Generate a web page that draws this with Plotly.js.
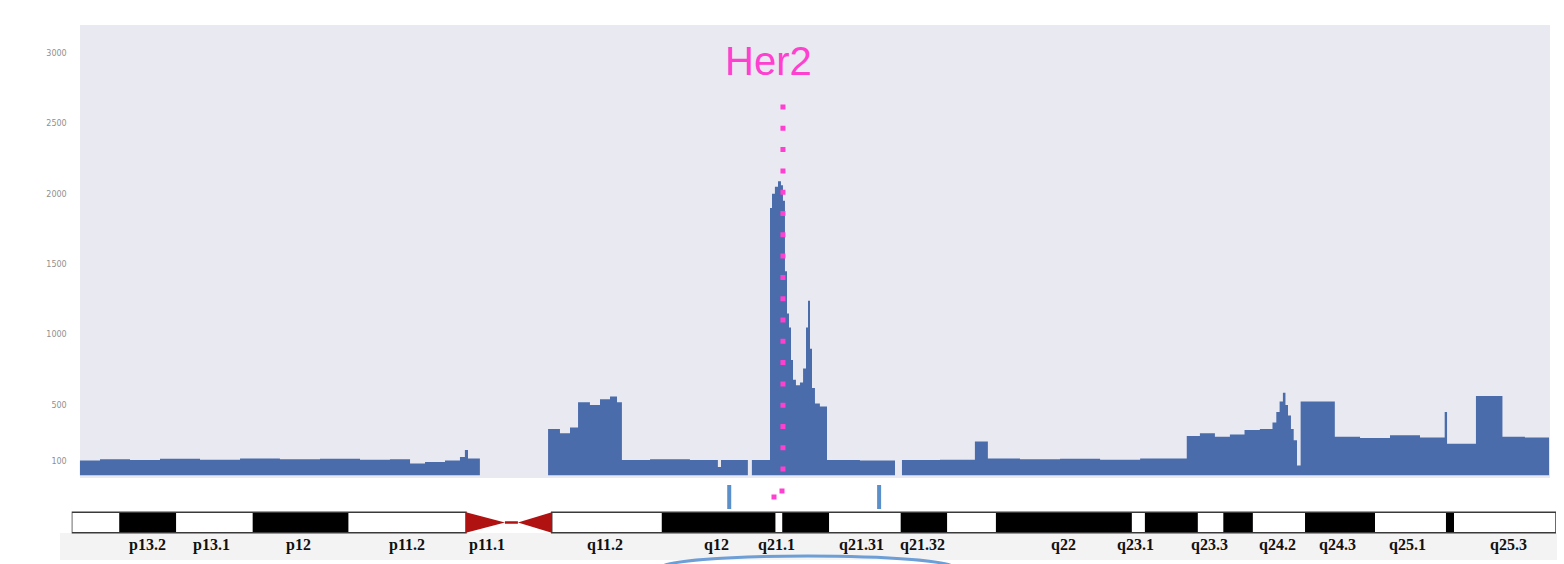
<!DOCTYPE html>
<html>
<head>
<meta charset="utf-8">
<script src="https://cdn.plot.ly/plotly-3.0.1.min.js"></script>
<style>html,body{margin:0;padding:0;background:#fff;}#chart{width:1564px;height:564px;}</style>
</head>
<body>
<div id="chart"></div>
<script>
// ---- coverage profile along chromosome 17 (position in Mb, read depth) ----
const posMb = [0.45,1.55,3.19,4.83,7.02,9.21,11.39,13.58,15.77,17.41,18.51,19.33,20.42,21.24,21.51,21.68,22.33,
  26.06,26.71,27.26,27.70,28.35,28.90,29.45,29.83,30.10,31.64,33.82,35.35,35.52,36.99,37.21,
  38.20,38.31,38.47,38.64,38.80,38.91,39.02,39.13,39.24,39.35,39.46,39.62,39.84,40.01,40.17,40.28,40.39,40.50,40.66,40.93,
  41.32,43.12,45.04,45.42,47.50,49.41,50.12,51.88,54.07,56.26,58.45,
  61.00,61.72,62.54,63.36,64.16,65.00,65.69,65.90,66.08,66.26,66.40,66.54,66.70,66.85,67.03,67.23,69.10,70.48,72.12,73.76,75.11,75.24,76.82,78.27,79.50,80.82];
const depth = [105,115,110,118,112,120,115,118,112,115,85,95,105,130,180,120,0,
  330,300,340,520,500,540,560,520,110,115,110,60,110,0,110,
  1900,2000,2050,2090,2060,1950,1450,1150,1050,820,680,640,660,760,1050,1240,900,620,510,490,
  110,105,0,110,112,240,120,115,118,112,120,
  280,300,275,290,322,330,375,450,524,587,500,425,330,250,70,524,275,265,285,270,450,225,564,275,270,0];

// ---- y axis ticks ----
const yTickVals = [100,500,1000,1500,2000,2500,3000];
const yTickText = ['100','500','1000','1500','2000','2500','3000'];

// ---- cytoband ideogram (Mb) ----
const bandStart = [0,2.6,5.72,9.9,15.15, 26.26,32.28,38.51,38.87,41.44,45.35,47.9,50.56,58.0,58.71,61.61,63.0,64.62,67.47,71.3,75.18,75.62];
const bandEnd   = [2.6,5.72,9.9,15.15,21.57, 32.28,38.51,38.87,41.44,45.35,47.9,50.56,58.0,58.71,61.61,63.0,64.62,67.47,71.3,75.18,75.62,81.2];
const bandStain = ['w','b','w','b','w', 'w','b','w','b','w','b','w','b','w','b','w','b','w','b','w','b','w'];
const centromere = [21.57, 23.7, 24.41, 26.26];
const chromEnd = 81.2;

const bandLabels = ['p13.2','p13.1','p12','p11.2','p11.1','q11.2','q12','q21.1','q21.31','q21.32','q22','q23.1','q23.3','q24.2','q24.3','q25.1','q25.3'];
const bandLabelPos = [4.12,7.67,12.43,18.34,22.72,29.17,35.3,38.58,43.23,46.57,54.23,58.22,62.22,65.99,69.27,73.1,78.6];

const her2Pos = 38.91;
const markerPos = [35.97, 44.17];

// ---- layout helpers (pixel -> paper) ----
const W = 1564, H = 564;
const px = v => v / W;
const py = v => 1 - v / H;

const shapes = [];
shapes.push({type:'rect', xref:'paper', yref:'paper', x0:px(80), x1:px(1550), y0:py(478), y1:py(25),
  fillcolor:'#e9e9f2', line:{width:0}, layer:'below'});
shapes.push({type:'rect', xref:'paper', yref:'paper', x0:px(60), x1:px(1557), y0:py(560), y1:py(533),
  fillcolor:'#f3f3f3', line:{width:0}, layer:'below'});

const iTop = py(512.3), iBot = py(532.7), iMid = py(522.5);
for (let i = 0; i < bandStart.length; i++) {
  shapes.push({type:'rect', xref:'x', yref:'paper', x0:bandStart[i], x1:bandEnd[i], y0:iBot, y1:iTop,
    fillcolor: bandStain[i] === 'b' ? '#000000' : '#ffffff', line:{width:0}});
}
shapes.push({type:'rect', xref:'x', yref:'paper', x0:0, x1:centromere[0], y0:iBot, y1:iTop, line:{color:'#3a3a3a', width:1.5}});
shapes.push({type:'rect', xref:'x', yref:'paper', x0:centromere[3], x1:chromEnd, y0:iBot, y1:iTop, line:{color:'#3a3a3a', width:1.5}});
shapes.push({type:'line', xref:'x', yref:'paper', x0:centromere[1], x1:centromere[2], y0:iMid, y1:iMid, line:{color:'#b01212', width:2.5}});
shapes.push({type:'path', xref:'x', yref:'paper', path:`M ${centromere[0]},${iTop} L ${centromere[1]},${iMid} L ${centromere[0]},${iBot} Z`,
  fillcolor:'#b01212', line:{width:0}});
shapes.push({type:'path', xref:'x', yref:'paper', path:`M ${centromere[3]},${iTop} L ${centromere[2]},${iMid} L ${centromere[3]},${iBot} Z`,
  fillcolor:'#b01212', line:{width:0}});

markerPos.forEach(m => shapes.push({type:'line', xref:'x', yref:'paper', x0:m, x1:m, y0:py(485), y1:py(509),
  line:{color:'#5b8fc9', width:4}}));

shapes.push({type:'line', xref:'x', yref:'paper', x0:her2Pos, x1:her2Pos, y0:py(104.5), y1:py(472),
  line:{color:'#ff3fcf', width:5, dash:'5px,16.3px'}});
[[782,491],[774,497]].forEach(d => shapes.push({type:'rect', xref:'paper', yref:'paper',
  x0:px(d[0]-2.5), x1:px(d[0]+2.5), y0:py(d[1]+2.5), y1:py(d[1]-2.5), fillcolor:'#ff3fcf', line:{width:0}}));

shapes.push({type:'circle', xref:'paper', yref:'paper', x0:px(660), x1:px(955), y0:py(580), y1:py(556),
  line:{color:'#6d9ed6', width:3}, fillcolor:'rgba(0,0,0,0)'});

const annotations = bandLabels.map((t, i) => ({
  text: '<b>' + t + '</b>', x: bandLabelPos[i], xref:'x', y: py(545), yref:'paper', showarrow:false,
  xanchor:'center', yanchor:'middle',
  font:{family:'Liberation Serif, Times New Roman, serif', size:16, color:'#111'}
}));
annotations.push({text:'Her2', xref:'paper', yref:'paper', x:px(768), y:py(61), showarrow:false,
  xanchor:'center', yanchor:'middle', font:{family:'Liberation Sans, Arial, sans-serif', size:40, color:'#ff3fcf'}});

const trace = {
  type:'scatter', mode:'lines', x: posMb, y: depth,
  line:{shape:'hv', width:0, color:'#4a6cab'},
  fill:'tozeroy', fillcolor:'#4a6cab', hoverinfo:'skip', showlegend:false
};

const layout = {
  width: W, height: H,
  margin:{l:0, r:0, t:0, b:0},
  paper_bgcolor:'#ffffff', plot_bgcolor:'rgba(0,0,0,0)',
  showlegend:false,
  xaxis:{domain:[px(71.7), px(1556)], range:[0, chromEnd], showgrid:false, zeroline:false,
    showticklabels:false, ticks:'', showline:false, fixedrange:true},
  yaxis:{domain:[py(475.4), py(25)], range:[0, 3199], showgrid:false, zeroline:false, showline:false,
    tickvals:yTickVals, ticktext:yTickText, ticks:'', ticklabelstandoff:4,
    tickfont:{family:'DejaVu Sans, sans-serif', size:8, color:'#8f8f8f'}, fixedrange:true},
  shapes: shapes,
  annotations: annotations
};

Plotly.newPlot('chart', [trace], layout, {staticPlot:true, displayModeBar:false});
</script>
</body>
</html>
